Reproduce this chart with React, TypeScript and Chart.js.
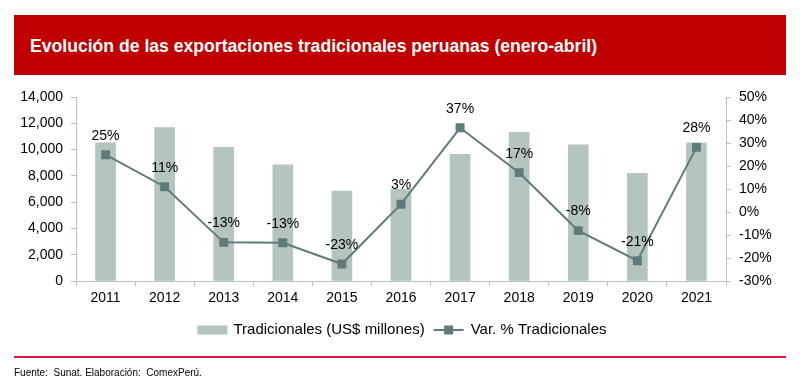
import React, { useEffect, useRef } from 'react';
import { Chart, registerables } from 'chart.js';

Chart.register(...registerables);

const categories = ['2011', '2012', '2013', '2014', '2015', '2016', '2017', '2018', '2019', '2020', '2021'];
const tradicionales = [10520, 11670, 10170, 8830, 6850, 6980, 9640, 11310, 10370, 8190, 10520];
const variacion = [24.9, 11.0, -13.2, -13.4, -22.6, 3.4, 36.6, 17.1, -8.1, -21.2, 28.1];
const leftAxis = { min: 0, max: 14000, step: 2000 };
const rightAxis = { min: -30, max: 50, step: 10 };

const FONT = '"Liberation Sans", Arial, Helvetica, sans-serif';
const BAR_COLOR = '#b4c4c0';
const LINE_COLOR = '#5f7a7a';
const AXIS_COLOR = '#b4c4c0';

const pointLabelsPlugin = {
  id: 'pointLabels',
  afterDatasetsDraw(chart: any) {
    const meta = chart.getDatasetMeta(1);
    const ctx = chart.ctx;
    ctx.save();
    ctx.font = `14px ${FONT}`;
    ctx.fillStyle = '#000';
    ctx.textAlign = 'center';
    ctx.textBaseline = 'middle';
    meta.data.forEach((pt: any, i: number) => {
      ctx.fillText(Math.round(variacion[i]) + '%', pt.x, pt.y - 19);
    });
    ctx.restore();
  },
};

const legendPlugin = {
  id: 'customLegend',
  afterDraw(chart: any) {
    const ctx = chart.ctx;
    const ds = chart.data.datasets;
    ctx.save();
    ctx.font = `15px ${FONT}`;
    ctx.textBaseline = 'middle';
    ctx.textAlign = 'left';
    const y = 330;
    const boxW = 30;
    const lineW = 30;
    const t1 = ctx.measureText(ds[0].label).width;
    const t2 = ctx.measureText(ds[1].label).width;
    const total = boxW + 6 + t1 + 9 + lineW + 7 + t2;
    let x = chart.width / 2 - total / 2 + 2;
    ctx.fillStyle = ds[0].backgroundColor;
    ctx.fillRect(x, y - 4.5, boxW, 9);
    x += boxW + 6;
    ctx.fillStyle = '#000';
    ctx.fillText(ds[0].label, x, y);
    x += t1 + 9;
    ctx.strokeStyle = ds[1].borderColor;
    ctx.lineWidth = 2;
    ctx.beginPath();
    ctx.moveTo(x, y);
    ctx.lineTo(x + lineW, y);
    ctx.stroke();
    ctx.fillStyle = ds[1].pointBackgroundColor;
    ctx.fillRect(x + lineW / 2 - 4.5, y - 4.5, 9, 9);
    x += lineW + 7;
    ctx.fillStyle = '#000';
    ctx.fillText(ds[1].label, x, y);
    ctx.restore();
  },
};

export default function App() {
  const ref = useRef<HTMLCanvasElement>(null);

  useEffect(() => {
    if (!ref.current) return;
    const chart = new Chart(ref.current, {
      type: 'bar',
      data: {
        labels: categories,
        datasets: [
          {
            type: 'bar',
            label: 'Tradicionales (US$ millones)',
            data: tradicionales,
            backgroundColor: BAR_COLOR,
            borderWidth: 0,
            barThickness: 20,
            yAxisID: 'y',
            order: 1,
          },
          {
            type: 'line',
            label: 'Var. % Tradicionales',
            data: variacion,
            borderColor: LINE_COLOR,
            backgroundColor: LINE_COLOR,
            pointBackgroundColor: LINE_COLOR,
            pointBorderColor: LINE_COLOR,
            borderWidth: 2,
            pointStyle: 'rect',
            pointRadius: 6.3,
            pointBorderWidth: 0,
            tension: 0,
            yAxisID: 'y1',
            order: 0,
          } as any,
        ],
      },
      options: {
        animation: false,
        responsive: false,
        maintainAspectRatio: false,
        devicePixelRatio: 1,
        layout: { padding: { top: 97, bottom: 79, left: 0, right: 0 } },
        plugins: {
          legend: { display: false },
          tooltip: { enabled: false },
        },
        scales: {
          x: {
            offset: true,
            grid: {
              display: true,
              drawOnChartArea: false,
              drawTicks: true,
              tickLength: 5,
              color: AXIS_COLOR,
              offset: true,
            },
            border: { color: AXIS_COLOR, width: 1 },
            ticks: { font: { size: 14, family: FONT }, color: '#000', padding: 4, maxRotation: 0 },
            afterFit: (s: any) => {
              s.height = 30;
            },
          },
          y: {
            position: 'left',
            min: leftAxis.min,
            max: leftAxis.max,
            ticks: {
              stepSize: leftAxis.step,
              font: { size: 14, family: FONT },
              color: '#000',
              padding: 8,
              callback: (v: any) => Number(v).toLocaleString('en-US'),
            },
            grid: { drawOnChartArea: false, drawTicks: true, tickLength: 5, color: AXIS_COLOR },
            border: { color: AXIS_COLOR, width: 1 },
            afterFit: (s: any) => {
              s.width = 76;
            },
          },
          y1: {
            position: 'right',
            min: rightAxis.min,
            max: rightAxis.max,
            ticks: {
              stepSize: rightAxis.step,
              font: { size: 14, family: FONT },
              color: '#000',
              padding: 8,
              callback: (v: any) => v + '%',
            },
            grid: { drawOnChartArea: false, drawTicks: true, tickLength: 5, color: AXIS_COLOR },
            border: { color: AXIS_COLOR, width: 1 },
            afterFit: (s: any) => {
              s.width = 74;
            },
          },
        },
      } as any,
      plugins: [pointLabelsPlugin, legendPlugin],
    });
    return () => chart.destroy();
  }, []);

  return (
    <div style={{ position: 'absolute', left: 0, top: 0, width: 800, height: 390, background: '#fff', fontFamily: FONT }}>
      <canvas ref={ref} width={800} height={390} style={{ position: 'absolute', left: 0, top: 0, width: 800, height: 390 }} />
      <div
        style={{
          position: 'absolute',
          left: 14,
          top: 15,
          width: 772,
          height: 60,
          background: '#c00000',
        }}
      >
        <div
          style={{
            position: 'absolute',
            left: 16,
            top: 0,
            height: 60,
            lineHeight: '62px',
            color: '#fff',
            fontWeight: 'bold',
            fontSize: 17.6,
            whiteSpace: 'nowrap',
          }}
        >
          Evolución de las exportaciones tradicionales peruanas (enero-abril)
        </div>
      </div>
      <div style={{ position: 'absolute', left: 14, top: 356, width: 772, height: 2, background: '#e3173e' }} />
      <div
        style={{
          position: 'absolute',
          left: 14,
          top: 367,
          fontSize: 10,
          lineHeight: '12px',
          color: '#000',
          whiteSpace: 'pre',
        }}
      >
        {'Fuente:  Sunat. Elaboración:  ComexPerú.'}
      </div>
    </div>
  );
}
